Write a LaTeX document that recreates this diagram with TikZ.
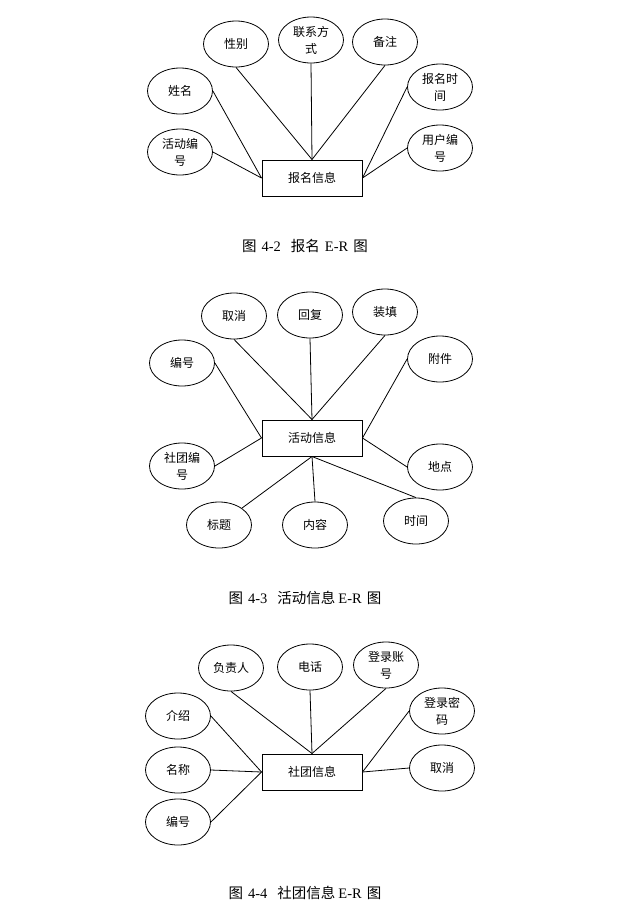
\documentclass[tikz,border=0pt]{standalone}
\usepackage{fontspec}
\setmainfont{Liberation Serif}
\newfontfamily\cjk{Noto Sans CJK SC}
\usetikzlibrary{shapes.geometric}
\tikzset{
  attr/.style={ellipse,draw,line width=0.8pt,minimum width=65pt,minimum height=46pt,inner sep=0pt,align=center,font=\cjk\fontsize{12}{17}\selectfont},
  ent/.style={rectangle,draw,line width=1pt,minimum width=100pt,minimum height=36pt,inner sep=0pt,font=\cjk\fontsize{12}{14}\selectfont},
  conn/.style={line width=0.8pt},
  figcap/.style={font=\fontsize{14.5}{16}\selectfont}
}
\begin{document}
\begin{tikzpicture}[x=1pt,y=-1pt]
\useasboundingbox[fill=white] (0,0) rectangle (619,908);
% ---------- Diagram 1 ----------
\node[ent] (r1) at (312,178) {报名信息};
\node[attr] (a1) at (236,44) {性别};
\node[attr] (a2) at (311,40) {联系方\\式};
\node[attr] (a3) at (385,42) {备注};
\node[attr] (a4) at (180,91) {姓名};
\node[attr] (a5) at (440,87) {报名时\\间};
\node[attr] (a6) at (180,152) {活动编\\号};
\node[attr] (a7) at (440,148) {用户编\\号};
\draw[conn] (a1.south) -- (r1.north);
\draw[conn] (a2.south) -- (r1.north);
\draw[conn] (a3.south) -- (r1.north);
\draw[conn] (a4.east) -- (r1.west);
\draw[conn] (a6.east) -- (r1.west);
\draw[conn] (a5.west) -- (r1.east);
\draw[conn] (a7.west) -- (r1.east);
\node[figcap] (c1) at (305,246) {{\cjk 图}\hspace{5pt}4-2\hspace{10pt}{\cjk 报名}\hspace{5pt}E-R\hspace{5pt}{\cjk 图}};
% ---------- Diagram 2 ----------
\node[ent] (r2) at (312,438) {活动信息};
\node[attr] (b1) at (234,316) {取消};
\node[attr] (b2) at (310,315) {回复};
\node[attr] (b3) at (385,312) {装填};
\node[attr] (b4) at (182,363) {编号};
\node[attr] (b5) at (440,359) {附件};
\node[attr] (b6) at (182,466) {社团编\\号};
\node[attr] (b7) at (440,467) {地点};
\node[attr] (b8) at (219,525) {标题};
\node[attr] (b9) at (315,525) {内容};
\node[attr] (b10) at (416,521) {时间};
\draw[conn] (b1.south) -- (r2.north);
\draw[conn] (b2.south) -- (r2.north);
\draw[conn] (b3.south) -- (r2.north);
\draw[conn] (b4.east) -- (r2.west);
\draw[conn] (b6.east) -- (r2.west);
\draw[conn] (b5.west) -- (r2.east);
\draw[conn] (b7.west) -- (r2.east);
\draw[conn] (b8) -- (r2.south);
\draw[conn] (b9.north) -- (r2.south);
\draw[conn] (b10.north) -- (r2.south);
\node[figcap] (c2) at (305,598) {{\cjk 图}\hspace{5pt}4-3\hspace{10pt}{\cjk 活动信息}\hspace{3pt}E-R\hspace{5pt}{\cjk 图}};
% ---------- Diagram 3 ----------
\node[ent] (r3) at (312,772) {社团信息};
\node[attr] (d1) at (231,668) {负责人};
\node[attr] (d2) at (310,667) {电话};
\node[attr] (d3) at (386,665) {登录账\\号};
\node[attr] (d4) at (178,716) {介绍};
\node[attr] (d5) at (442,711) {登录密\\码};
\node[attr] (d6) at (178,770) {名称};
\node[attr] (d7) at (442,768) {取消};
\node[attr] (d8) at (178,822) {编号};
\draw[conn] (d1.south) -- (r3.north);
\draw[conn] (d2.south) -- (r3.north);
\draw[conn] (d3.south) -- (r3.north);
\draw[conn] (d4.east) -- (r3.west);
\draw[conn] (d6.east) -- (r3.west);
\draw[conn] (d8.east) -- (r3.west);
\draw[conn] (d5.west) -- (r3.east);
\draw[conn] (d7.west) -- (r3.east);
\node[figcap] (c3) at (305,893) {{\cjk 图}\hspace{5pt}4-4\hspace{10pt}{\cjk 社团信息}\hspace{3pt}E-R\hspace{5pt}{\cjk 图}};
\end{tikzpicture}
\end{document}
